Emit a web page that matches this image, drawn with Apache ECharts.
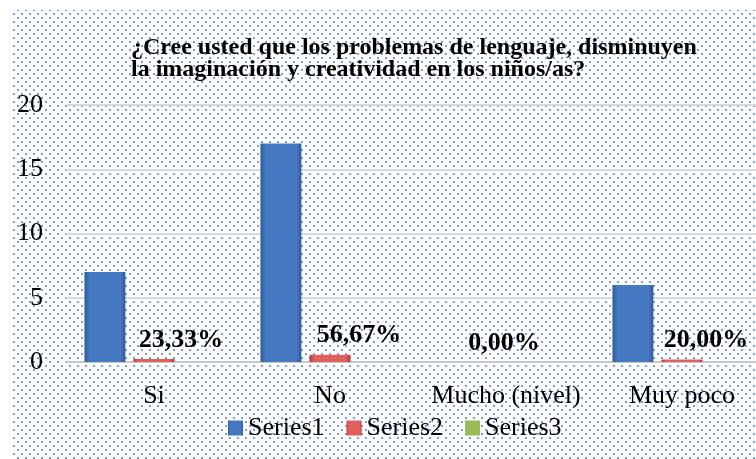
<!DOCTYPE html>
<html>
<head>
<meta charset="utf-8">
<script src="https://cdn.jsdelivr.net/npm/echarts@6/dist/echarts.min.js"></script>
<style>
  html, body { margin: 0; padding: 0; background: #fff; }
  #chart { width: 756px; height: 459px; }
</style>
</head>
<body>
<div id="chart"></div>
<script>
// data
const categories = ['Si', 'No', 'Mucho (nivel)', 'Muy poco'];
const series1 = [7, 17, 0, 6];
const series2 = [0.2333, 0.5667, 0, 0.2];
const series3 = [0, 0, 0, 0];
const yTicks = [0, 5, 10, 15, 20];

// horizontal nudge of the percent labels (Excel moved them to the side)
const labelShift = [27, 29, -2, 24];

const serif = '"Liberation Serif", "Times New Roman", serif';

// dotted background tile
function dotPattern() {
  const c = document.createElement('canvas');
  c.width = 8;
  c.height = 8;
  const ctx = c.getContext('2d');
  ctx.fillStyle = '#fff';
  ctx.fillRect(0, 0, 8, 8);
  ctx.fillStyle = 'rgba(68,114,196,0.7)';
  ctx.fillRect(1, 1, 2, 2);
  ctx.fillRect(5, 5, 2, 2);
  return c;
}

function bevel(dark, light) {
  return new echarts.graphic.LinearGradient(0, 0, 1, 0, [
    { offset: 0, color: dark },
    { offset: 0.12, color: light },
    { offset: 0.88, color: light },
    { offset: 1, color: dark }
  ]);
}

const chart = echarts.init(document.getElementById('chart'));

chart.setOption({
  animation: false,
  backgroundColor: '#fff',
  graphic: [{
    type: 'rect',
    silent: true,
    z: -10,
    shape: { x: 13, y: 10, width: 760, height: 460 },
    style: { fill: { image: dotPattern(), repeat: 'repeat' } }
  }],
  title: {
    text: '¿Cree usted que los problemas de lenguaje, disminuyen\nla imaginación y creatividad en los niños/as?',
    left: 126,
    top: 32,
    textStyle: {
      fontFamily: serif,
      fontWeight: 'bold',
      fontSize: 24,
      lineHeight: 22,
      color: '#000'
    }
  },
  legend: {
    data: ['Series1', 'Series2', 'Series3'],
    left: 223,
    top: 410,
    icon: 'rect',
    itemWidth: 15,
    itemHeight: 15,
    itemGap: 22,
    textStyle: { fontFamily: serif, fontSize: 26, color: '#000' }
  },
  grid: {
    left: 66,
    right: -14,
    top: 105,
    bottom: 97,
    outerBoundsMode: 'none'
  },
  xAxis: {
    type: 'category',
    data: categories,
    axisTick: { show: false },
    axisLine: { lineStyle: { color: '#c8c8c8', width: 2 } },
    axisLabel: {
      interval: 0,
      margin: 21,
      fontFamily: serif,
      fontSize: 26,
      color: '#000'
    }
  },
  yAxis: {
    type: 'value',
    min: yTicks[0],
    max: yTicks[yTicks.length - 1],
    interval: yTicks[1] - yTicks[0],
    axisLine: { show: false },
    axisTick: { show: false },
    splitLine: { lineStyle: { color: '#d9d9d9', width: 2 } },
    axisLabel: {
      margin: 23,
      fontFamily: serif,
      fontSize: 26,
      color: '#000'
    }
  },
  series: [
    {
      name: 'Series1',
      type: 'bar',
      data: series1,
      barGap: '20%',
      barCategoryGap: '21%',
      itemStyle: { color: bevel('#2b5a99', '#4479c2') }
    },
    {
      name: 'Series2',
      type: 'bar',
      data: series2.map((v, i) => ({
        value: v,
        label: { offset: [labelShift[i], 0] }
      })),
      itemStyle: { color: bevel('#b53c39', '#e0605c') },
      label: {
        show: true,
        position: 'top',
        distance: 6,
        fontFamily: serif,
        fontWeight: 'bold',
        fontSize: 26,
        color: '#000',
        formatter: p => (p.value * 100).toFixed(2).replace('.', ',') + '%'
      }
    },
    {
      name: 'Series3',
      type: 'bar',
      data: series3,
      itemStyle: { color: '#9bbb59' }
    }
  ]
});
</script>
</body>
</html>
